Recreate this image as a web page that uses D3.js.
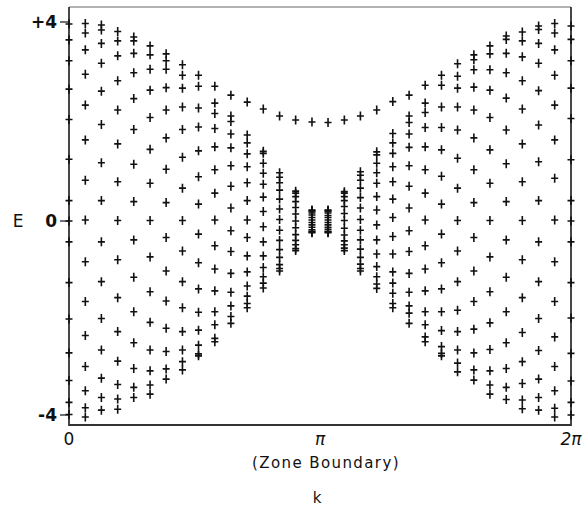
<!DOCTYPE html>
<html>
<head>
<meta charset="utf-8">
<script src="https://cdn.jsdelivr.net/npm/d3@7"></script>
<style>
  body { margin: 0; background: #fff; }
  text { font-family: "DejaVu Sans", sans-serif; fill: #111; }
</style>
</head>
<body>
<script>
// k in units of pi, one column of states per k
var kPi = [0.000, 0.065, 0.129, 0.194, 0.258, 0.323, 0.387, 0.452,
           0.516, 0.581, 0.645, 0.710, 0.774, 0.839, 0.903, 0.968,
           1.032, 1.097, 1.161, 1.226, 1.290, 1.355, 1.419, 1.484,
           1.548, 1.613, 1.677, 1.742, 1.806, 1.871, 1.935, 2.000];

// energies, left to right
var E00 = [3.96, 3.64, 3.22, 2.65, 2.04, 1.24, 0.41, 0.00, -0.43, -1.27, -2.02, -2.72, -3.29, -3.74, -3.99];
var E01 = [3.97, 3.78, 3.44, 2.95, 2.33, 1.63, 0.82, 0.02, -0.84, -1.66, -2.36, -3.00, -3.50, -3.85, -4.04];
var E02 = [3.94, 3.84, 3.57, 3.17, 2.61, 1.94, 1.17, 0.41, -0.43, -1.25, -2.01, -2.66, -3.24, -3.64, -3.90];
var E03 = [3.81, 3.62, 3.32, 2.82, 2.23, 1.55, 0.79, 0.01, -0.80, -1.58, -2.28, -2.89, -3.37, -3.67, -3.88];
var E04 = [3.70, 3.62, 3.37, 2.98, 2.46, 1.84, 1.14, 0.39, -0.39, -1.16, -1.87, -2.51, -3.04, -3.43, -3.64];
var E05 = [3.52, 3.34, 3.05, 2.63, 2.08, 1.44, 0.76, 0.01, -0.74, -1.46, -2.09, -2.66, -3.09, -3.38, -3.57];
var E06 = [3.36, 3.22, 3.05, 2.68, 2.23, 1.67, 1.04, 0.37, -0.34, -1.03, -1.65, -2.21, -2.69, -3.05, -3.26];
var E07 = [3.14, 2.93, 2.67, 2.29, 1.84, 1.28, 0.66, 0.01, -0.62, -1.25, -1.79, -2.28, -2.66, -2.90, -3.07];
var E08 = [2.93, 2.71, 2.27, 1.89, 1.41, 0.89, 0.34, -0.27, -0.86, -1.40, -1.88, -2.25, -2.56, -2.74, -2.78];
var E09 = [2.71, 2.37, 2.16, 1.86, 1.49, 1.03, 0.56, 0.02, -0.51, -0.99, -1.44, -1.87, -2.14, -2.42, -2.49];
var E10 = [2.53, 2.11, 2.00, 1.75, 1.47, 1.11, 0.70, 0.26, -0.20, -0.63, -1.08, -1.47, -1.75, -1.97, -2.11];
var E11 = [2.39, 1.73, 1.57, 1.35, 1.09, 0.77, 0.41, 0.02, -0.34, -0.72, -1.05, -1.34, -1.55, -1.70, -1.79];
var E12 = [2.25, 1.40, 1.36, 1.16, 0.96, 0.74, 0.48, 0.19, -0.12, -0.43, -0.72, -0.96, -1.15, -1.28, -1.38];
var E13 = [2.11, 0.97, 0.88, 0.77, 0.62, 0.44, 0.24, 0.03, -0.19, -0.40, -0.59, -0.75, -0.90, -0.98, -1.03];
var E14 = [2.03, 0.60, 0.56, 0.49, 0.39, 0.27, 0.14, 0.00, -0.14, -0.28, -0.40, -0.49, -0.57, -0.61];
var E15 = [1.99, 0.22, 0.21, 0.19, 0.16, 0.12, 0.07, 0.02, -0.03, -0.08, -0.13, -0.18, -0.21, -0.23, -0.24];
var E16 = [1.98, 0.22, 0.21, 0.19, 0.16, 0.11, 0.07, 0.02, -0.03, -0.08, -0.13, -0.17, -0.21, -0.23, -0.24];
var E17 = [2.03, 0.59, 0.56, 0.49, 0.41, 0.29, 0.15, 0.01, -0.15, -0.29, -0.41, -0.49, -0.56, -0.61];
var E18 = [2.11, 0.99, 0.92, 0.82, 0.66, 0.47, 0.26, 0.03, -0.19, -0.39, -0.58, -0.75, -0.89, -0.98, -1.03];
var E19 = [2.23, 1.39, 1.33, 1.16, 0.97, 0.76, 0.49, 0.22, -0.08, -0.39, -0.68, -0.94, -1.15, -1.30, -1.39];
var E20 = [2.40, 1.76, 1.57, 1.36, 1.09, 0.79, 0.44, 0.07, -0.32, -0.68, -1.05, -1.28, -1.49, -1.70, -1.79];
var E21 = [2.53, 2.11, 1.98, 1.75, 1.48, 1.11, 0.70, 0.26, -0.20, -0.63, -1.08, -1.47, -1.75, -1.90, -2.11];
var E22 = [2.73, 2.37, 2.18, 1.88, 1.49, 1.03, 0.56, 0.02, -0.51, -0.99, -1.44, -1.87, -2.14, -2.39, -2.49];
var E23 = [2.93, 2.73, 2.29, 1.88, 1.43, 0.90, 0.34, -0.27, -0.86, -1.40, -1.87, -2.26, -2.59, -2.73, -2.78];
var E24 = [3.16, 2.91, 2.67, 2.29, 1.83, 1.26, 0.66, 0.01, -0.62, -1.25, -1.84, -2.28, -2.66, -2.93, -3.11];
var E25 = [3.34, 3.24, 3.04, 2.69, 2.23, 1.67, 1.03, 0.37, -0.34, -1.03, -1.66, -2.23, -2.72, -3.07, -3.28];
var E26 = [3.52, 3.36, 3.04, 2.63, 2.08, 1.43, 0.76, 0.01, -0.74, -1.46, -2.10, -2.65, -3.09, -3.38, -3.57];
var E27 = [3.72, 3.65, 3.37, 2.98, 2.47, 1.83, 1.15, 0.39, -0.39, -1.16, -1.87, -2.51, -3.04, -3.43, -3.68];
var E28 = [3.80, 3.62, 3.30, 2.82, 2.25, 1.55, 0.79, 0.01, -0.80, -1.58, -2.30, -2.90, -3.35, -3.69, -3.87];
var E29 = [3.92, 3.85, 3.57, 3.17, 2.62, 1.93, 1.19, 0.41, -0.43, -1.25, -2.01, -2.67, -3.26, -3.64, -3.90];
var E30 = [3.97, 3.78, 3.44, 2.93, 2.33, 1.63, 0.86, 0.02, -0.84, -1.66, -2.39, -3.00, -3.50, -3.86, -4.04];
var E31 = [3.92, 3.65, 3.22, 2.67, 2.06, 1.23, 0.41, 0.00, -0.43, -1.27, -2.00, -2.73, -3.30, -3.74, -4.00];

var columns = [E00, E01, E02, E03, E04, E05, E06, E07, E08, E09, E10, E11, E12, E13, E14, E15,
               E16, E17, E18, E19, E20, E21, E22, E23, E24, E25, E26, E27, E28, E29, E30, E31];

var yTicks = [4, 0, -4];
var yTickLabels = ["+4", "0", "-4"];
var xTicks = [0, 1, 2];
var xTickLabels = ["0", "\u03c0", "2\u03c0"];

var width = 588, height = 508;
var plotL = 69, plotR = 571, plotT = 7, plotB = 425;

var svg = d3.select("body").append("svg")
    .attr("width", width)
    .attr("height", height);

var x = d3.scaleLinear().domain([0, 2]).range([plotL, plotR]);
var y = d3.scaleLinear().domain([-4, 0, 4]).range([415, 221, 22]);

// frame: top edge is faint in the original
svg.append("line")
    .attr("x1", plotL).attr("x2", plotR).attr("y1", plotT).attr("y2", plotT)
    .attr("stroke", "#666").attr("stroke-width", 1.2);
svg.append("path")
    .attr("d", "M" + plotL + "," + plotT + "V" + plotB + "H" + plotR + "V" + plotT)
    .attr("fill", "none").attr("stroke", "#333").attr("stroke-width", 1.8);

// y ticks and labels
svg.selectAll(".ytick")
    .data(yTicks)
  .enter().append("line")
    .attr("x1", plotL - 9).attr("x2", plotL)
    .attr("y1", function(d) { return y(d); })
    .attr("y2", function(d) { return y(d); })
    .attr("stroke", "#222").attr("stroke-width", 1.3);

svg.selectAll(".ylab")
    .data(yTicks)
  .enter().append("text")
    .attr("x", plotL - 12)
    .attr("y", function(d) { return y(d); })
    .attr("dy", "0.36em")
    .attr("text-anchor", "end")
    .style("font-size", "17px")
    .style("font-weight", "bold")
    .text(function(d, i) { return yTickLabels[i]; });

svg.append("text")
    .attr("x", 18).attr("y", y(0)).attr("dy", "0.36em")
    .attr("text-anchor", "middle")
    .style("font-size", "17px")
    .text("E");

// x labels
svg.selectAll(".xlab")
    .data(xTicks)
  .enter().append("text")
    .attr("x", function(d) { return x(d); })
    .attr("y", 445)
    .attr("text-anchor", "middle")
    .style("font-size", "17px")
    .style("font-style", function(d) { return d === 0 ? "normal" : "italic"; })
    .text(function(d, i) { return xTickLabels[i]; });

svg.append("text")
    .attr("x", 326).attr("y", 468)
    .attr("text-anchor", "middle")
    .style("font-size", "15px")
    .style("letter-spacing", "1.4px")
    .text("(Zone Boundary)");

svg.append("text")
    .attr("x", 317).attr("y", 503)
    .attr("text-anchor", "middle")
    .style("font-size", "15px")
    .text("k");

// crosses
var pts = [];
columns.forEach(function(col, j) {
  col.forEach(function(e) { pts.push({k: kPi[j], e: e}); });
});

svg.append("g").selectAll("path")
    .data(pts)
  .enter().append("path")
    .attr("transform", function(d) { return "translate(" + x(d.k) + "," + y(d.e) + ")"; })
    .attr("d", "M-3.5,0H3.5M0,-4.5V4.5")
    .attr("stroke", "#111")
    .attr("stroke-width", 1.6)
    .attr("fill", "none");
</script>
</body>
</html>
